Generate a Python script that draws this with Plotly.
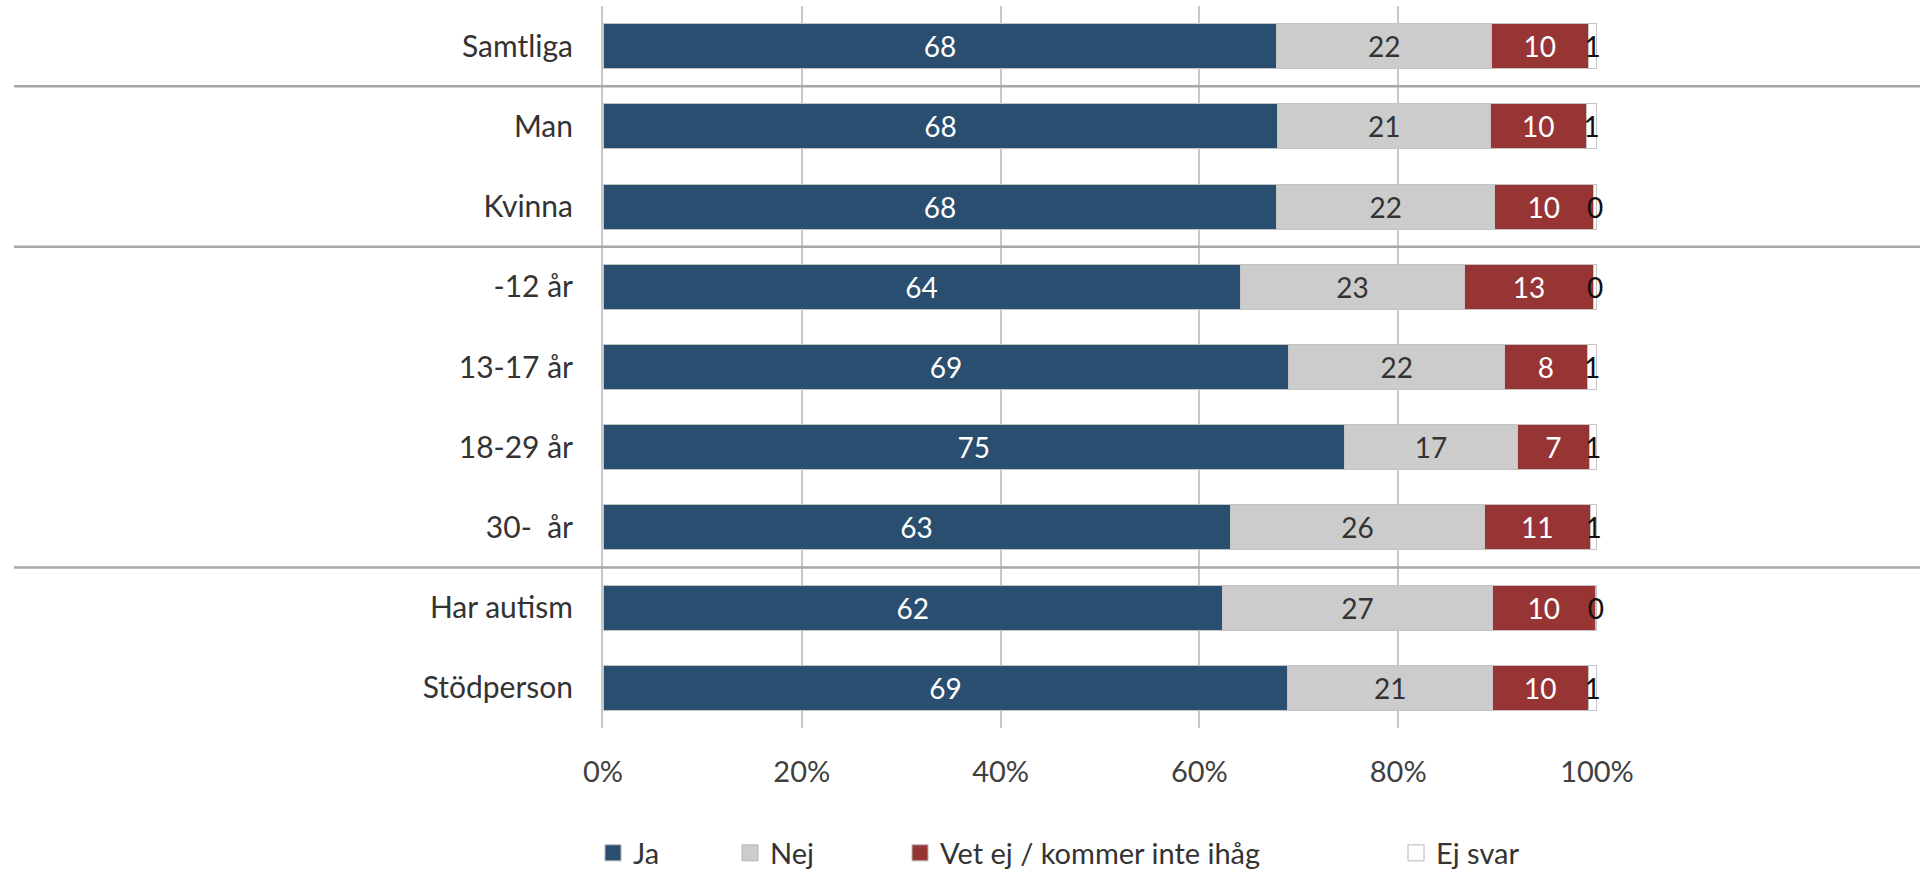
import plotly.graph_objects as go

categories = ["Samtliga", "Man", "Kvinna", "-12 år", "13-17 år", "18-29 år",
              "30-\u00a0 år", "Har autism", "Stödperson"]

ja = [67.8, 67.9, 67.8, 64.1, 69.0, 74.6, 63.1, 62.3, 68.9]
nej = [21.6, 21.4, 21.9, 22.6, 21.7, 17.4, 25.6, 27.2, 20.6]
vet_ej = [9.7, 9.6, 9.9, 12.9, 8.3, 7.2, 10.6, 10.3, 9.6]
ej_svar = [0.9, 1.1, 0.4, 0.4, 1.0, 0.8, 0.7, 0.2, 0.9]

series_names = ["Ja", "Nej", "Vet ej / kommer inte ihåg", "Ej svar"]
x_ticks = [0, 20, 40, 60, 80, 100]
x_tick_labels = [f"{v}%" for v in x_ticks]
separators_after = ["Samtliga", "Kvinna", "30-\u00a0 år"]

FONT = "Lato, 'Noto Sans', sans-serif"
colors = ["#2A4E6F", "#CCCCCC", "#973535", "#FFFFFF"]
text_colors = ["#FFFFFF", "#333333", "#FFFFFF", "#111111"]
legend_center_px = [620, 757, 927, 1423]

W, H = 1920, 879
L, R, T, B = 603, 323, 6, 151
pw = W - L - R
ph = H - T - B

fig = go.Figure()
all_series = [ja, nej, vet_ej, ej_svar]
for i, (name, vals) in enumerate(zip(series_names, all_series)):
    lg = "legend" if i == 0 else f"legend{i+1}"
    fig.add_trace(go.Bar(
        y=categories, x=vals, name=name, orientation="h",
        marker=dict(color=colors[i], line=dict(color="#C4C4C4", width=1)),
        texttemplate="%{x:.0f}",
        textposition="inside",
        insidetextanchor="middle",
        textangle=0,
        constraintext="none",
        textfont=dict(family=FONT, size=28, color=text_colors[i]),
        cliponaxis=False,
        showlegend=False,
        legendgroup=name,
        hoverinfo="skip",
    ))
    # legend entry with a larger square swatch
    fig.add_trace(go.Scatter(
        x=[None], y=[None], mode="markers", name=name,
        marker=dict(symbol="square", size=16, color=colors[i],
                    line=dict(color="#B4B4B4", width=1)),
        legend=lg, legendgroup=name, showlegend=True, hoverinfo="skip",
    ))

# group separators
for cat in separators_after:
    idx = categories.index(cat)
    fig.add_shape(type="line", xref="paper", yref="y",
                  x0=(14 - L) / pw, x1=(W - L) / pw,
                  y0=idx + 0.5, y1=idx + 0.5,
                  line=dict(color="#A8A8A8", width=2.5), layer="above")

legend_y = (H - B - 853) / ph
legends = {}
for i, px in enumerate(legend_center_px):
    key = "legend" if i == 0 else f"legend{i+1}"
    legends[key] = dict(
        orientation="h", x=(px - 27 - L) / pw, xanchor="left",
        y=legend_y, yanchor="middle",
        font=dict(family=FONT, size=29, color="#333333"),
        bgcolor="rgba(0,0,0,0)", borderwidth=0, itemclick=False,
        itemdoubleclick=False,
    )

fig.update_layout(
    width=W, height=H,
    margin=dict(l=L, r=R, t=T, b=B, pad=0, autoexpand=False),
    barmode="stack", bargap=0.44,
    plot_bgcolor="#FFFFFF", paper_bgcolor="#FFFFFF",
    font=dict(family=FONT, size=29, color="#333333"),
    showlegend=True,
    xaxis=dict(range=[0, 100.001], tickmode="array", tickvals=x_ticks,
               ticktext=x_tick_labels,
               showgrid=True, gridcolor="#C8C8C8", gridwidth=2,
               zeroline=False, showline=False, ticks="",
               ticklabelstandoff=24,
               tickfont=dict(family=FONT, size=29, color="#404040")),
    yaxis=dict(autorange="reversed", showgrid=False, zeroline=False,
               showline=True, linecolor="#C8C8C8", linewidth=2, ticks="",
               ticklabelstandoff=22,
               tickfont=dict(family=FONT, size=30, color="#333333")),
    **legends,
)

fig.write_html(
    "out.html",
    config={"displayModeBar": False},
    post_script="document.body.style.margin='0';document.body.style.overflow='hidden';",
)
